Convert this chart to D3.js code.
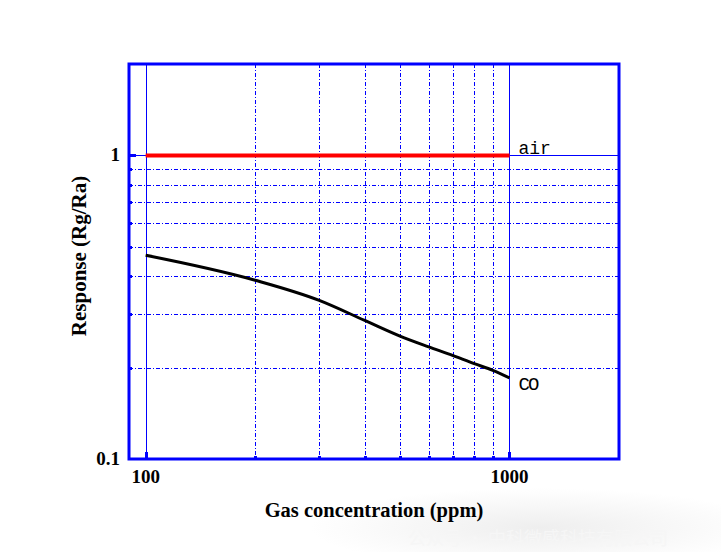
<!DOCTYPE html>
<html>
<head>
<meta charset="utf-8">
<script src="https://cdn.jsdelivr.net/npm/d3@7"></script>
<style>
  body { margin: 0; background: #fff; }
  svg { display: block; }
</style>
</head>
<body>
<svg id="chart" width="721" height="552"></svg>
<script>
// data
const concentration = [100, 200, 300, 400, 500, 600, 700, 800, 900, 1000]
const coResponse = [0.469, 0.388, 0.333, 0.286, 0.254, 0.234, 0.219, 0.206, 0.196, 0.185]
const airResponse = [1, 1]
const airConc = [100, 1000]
const xMajor = [100, 1000]
const xMinor = [200, 300, 400, 500, 600, 700, 800, 900]
const yMajor = [1]
const yMinor = [0.2, 0.3, 0.4, 0.5, 0.6, 0.7, 0.8, 0.9]
const xTickLabels = ['100', '1000']
const yTickLabels = [[1, '1'], [0.1, '0.1']]

const plotL = 129, plotR = 619, plotT = 64, plotB = 459
const blue = '#0000ff'
const serif = '"Liberation Serif", "Times New Roman", serif'

const svg = d3.select('#chart')

const x = d3.scaleLog().domain([90, 2000]).range([plotL, plotR])
const y = d3.scaleLog().domain([0.1, 2]).range([plotB, plotT])
const px = v => Math.round(x(v)) + 0.5
const py = v => Math.round(y(v)) + 0.5

// faint glow behind the watermark
const defs = svg.append('defs')
const glow = defs.append('radialGradient').attr('id', 'glow')
glow.append('stop').attr('offset', '0%').attr('stop-color', '#eeeeee')
glow.append('stop').attr('offset', '100%').attr('stop-color', '#ffffff')

svg.append('ellipse')
   .attr('cx', 540).attr('cy', 528)
   .attr('rx', 230).attr('ry', 40)
   .attr('fill', 'url(#glow)')

// grid
svg.selectAll('line.vminor')
   .data(xMinor)
   .enter()
   .append('line')
   .attr('x1', px).attr('x2', px)
   .attr('y1', plotT).attr('y2', plotB)
   .attr('stroke', blue)
   .attr('stroke-width', 1)
   .attr('stroke-dasharray', '4,2,1,2')

svg.selectAll('line.hminor')
   .data(yMinor)
   .enter()
   .append('line')
   .attr('x1', plotL).attr('x2', plotR)
   .attr('y1', py).attr('y2', py)
   .attr('stroke', blue)
   .attr('stroke-width', 1)
   .attr('stroke-dasharray', '4,2,1,2')

svg.selectAll('line.vmajor')
   .data(xMajor)
   .enter()
   .append('line')
   .attr('x1', px).attr('x2', px)
   .attr('y1', plotT).attr('y2', plotB)
   .attr('stroke', blue)
   .attr('stroke-width', 1)

svg.selectAll('line.hmajor')
   .data(yMajor)
   .enter()
   .append('line')
   .attr('x1', plotL).attr('x2', plotR)
   .attr('y1', py).attr('y2', py)
   .attr('stroke', blue)
   .attr('stroke-width', 1)

// ticks on bottom and left
svg.selectAll('rect.xtick')
   .data(xMinor.map(d => [d, 3]).concat(xMajor.map(d => [d, 7])))
   .enter()
   .append('rect')
   .attr('x', d => Math.round(x(d[0])) - 1)
   .attr('y', d => plotB - d[1])
   .attr('width', 3)
   .attr('height', d => d[1])
   .attr('fill', blue)

svg.selectAll('rect.ytick')
   .data(yMinor.map(d => [d, 3]).concat(yMajor.map(d => [d, 7])))
   .enter()
   .append('rect')
   .attr('x', plotL)
   .attr('y', d => Math.round(y(d[0])) - 1)
   .attr('width', d => d[1])
   .attr('height', 3)
   .attr('fill', blue)

// lines
const line = d3.line().x(d => x(d[0])).y(d => y(d[1])).curve(d3.curveMonotoneX)

svg.append('path')
   .datum(d3.zip(airConc, airResponse))
   .attr('d', line)
   .attr('fill', 'none')
   .attr('stroke', '#ff0000')
   .attr('stroke-width', 4)

svg.append('path')
   .datum(d3.zip(concentration, coResponse))
   .attr('d', line)
   .attr('fill', 'none')
   .attr('stroke', '#000')
   .attr('stroke-width', 3)

// frame
svg.append('rect')
   .attr('x', plotL).attr('y', plotT)
   .attr('width', plotR - plotL).attr('height', plotB - plotT)
   .attr('fill', 'none')
   .attr('stroke', blue)
   .attr('stroke-width', 3)

// tick labels
svg.selectAll('text.xlab')
   .data(d3.zip(xMajor, xTickLabels))
   .enter()
   .append('text')
   .attr('x', d => x(d[0]))
   .attr('y', 483)
   .attr('text-anchor', 'middle')
   .style('font-family', serif)
   .style('font-weight', 'bold')
   .style('font-size', '19px')
   .text(d => d[1])

svg.selectAll('text.ylab')
   .data(yTickLabels)
   .enter()
   .append('text')
   .attr('x', 120)
   .attr('y', d => y(d[0]) + 6)
   .attr('text-anchor', 'end')
   .style('font-family', serif)
   .style('font-weight', 'bold')
   .style('font-size', '19px')
   .text(d => d[1])

// axis titles
svg.append('text')
   .attr('x', 374)
   .attr('y', 517)
   .attr('text-anchor', 'middle')
   .style('font-family', serif)
   .style('font-weight', 'bold')
   .style('font-size', '20.5px')
   .text('Gas concentration (ppm)')

svg.append('text')
   .attr('transform', 'translate(86,256) rotate(-90)')
   .attr('text-anchor', 'middle')
   .style('font-family', serif)
   .style('font-weight', 'bold')
   .style('font-size', '21px')
   .text('Response (Rg/Ra)')

// series labels
svg.append('text')
   .attr('x', x(1000) + 9)
   .attr('y', y(1) - 1)
   .style('font-family', '"Liberation Mono", "Courier New", monospace')
   .style('font-size', '18px')
   .text('air')

svg.append('text')
   .attr('x', x(1000) + 9)
   .attr('y', y(coResponse[coResponse.length - 1]) + 12)
   .style('font-family', '"Liberation Mono", "Courier New", monospace')
   .style('font-size', '19px')
   .attr('textLength', 21)
   .text('CO')

// faint watermark
svg.append('text')
   .attr('x', 408)
   .attr('y', 545)
   .attr('fill', '#f6f6f6')
   .style('font-family', '"Noto Sans CJK SC", sans-serif')
   .style('font-size', '18px')
   .text('公众号 · 中科微感科技有限公司')
</script>
</body>
</html>
